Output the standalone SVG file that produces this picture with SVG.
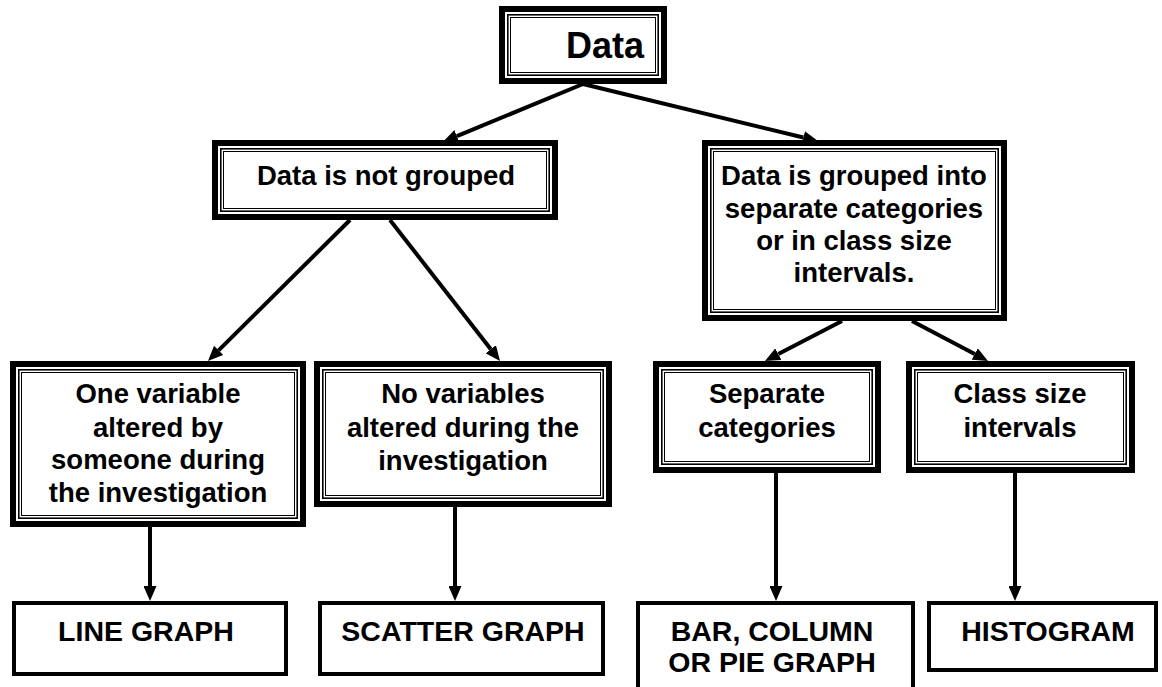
<svg xmlns="http://www.w3.org/2000/svg" width="1162" height="687" viewBox="0 0 1162 687">
  <style>
    .outer { fill: #fff; stroke: #000; stroke-width: 6; }
    .mid { fill: none; stroke: #000; stroke-width: 1.6; }
    .inner { fill: none; stroke: #000; stroke-width: 1; }
    .plain { fill: #fff; stroke: #000; stroke-width: 4; }
    .lbl { font-family: "Liberation Sans", Arial, sans-serif; font-weight: bold; font-size: 27.5px; fill: #000; text-anchor: middle; }
    .title { font-size: 36px; }
    .big { font-size: 28.5px; }
    .conn { stroke: #000; stroke-width: 4; fill: none; marker-end: url(#head); }
  </style>
  <defs>
    <marker id="head" markerUnits="userSpaceOnUse" markerWidth="15" markerHeight="13" refX="0" refY="6.5" orient="auto">
      <path d="M0,0 L15,6.5 L0,13 z" fill="#000"/>
    </marker>
  </defs>

  <rect width="1162" height="687" fill="#fff"/>

  <!-- connectors -->
  <g id="connectors">
    <line class="conn" x1="583" y1="84" x2="456.9" y2="136.1"/>
    <line class="conn" x1="583" y1="84" x2="803.4" y2="137.5"/>
    <line class="conn" x1="350" y1="220" x2="218.6" y2="350.4"/>
    <line class="conn" x1="390" y1="220" x2="490.8" y2="349.2"/>
    <line class="conn" x1="842" y1="321" x2="778.3" y2="354.1"/>
    <line class="conn" x1="912" y1="321" x2="974.7" y2="354"/>
    <line class="conn" x1="150" y1="527" x2="150" y2="586"/>
    <line class="conn" x1="455" y1="507" x2="455" y2="586"/>
    <line class="conn" x1="776" y1="473" x2="776" y2="586"/>
    <line class="conn" x1="1015" y1="473" x2="1015" y2="586"/>
  </g>

  <!-- top node -->
  <g id="data">
    <rect class="outer" x="502" y="9" width="162" height="72"/>
    <rect class="mid" x="507.8" y="14.8" width="150.4" height="60.4"/>
    <rect class="inner" x="510.5" y="17.5" width="145" height="55"/>
    <text class="lbl title" x="605" y="58">Data</text>
  </g>

  <g id="not-grouped">
    <rect class="outer" x="215" y="143" width="340" height="74"/>
    <rect class="mid" x="220.8" y="148.8" width="328.4" height="62.4"/>
    <rect class="inner" x="223.5" y="151.5" width="323" height="57"/>
    <text class="lbl" x="386" y="185">Data is not grouped</text>
  </g>

  <g id="grouped">
    <rect class="outer" x="705" y="143" width="299" height="175"/>
    <rect class="mid" x="710.8" y="148.8" width="287.4" height="163.4"/>
    <rect class="inner" x="713.5" y="151.5" width="282" height="158"/>
    <text class="lbl" x="854" y="185">Data is grouped into</text>
    <text class="lbl" x="854" y="218">separate categories</text>
    <text class="lbl" x="854" y="250">or in class size</text>
    <text class="lbl" x="854" y="282">intervals.</text>
  </g>

  <g id="one-variable">
    <rect class="outer" x="13" y="364" width="290" height="160"/>
    <rect class="mid" x="18.8" y="369.8" width="278.4" height="148.4"/>
    <rect class="inner" x="21.5" y="372.5" width="273" height="143"/>
    <text class="lbl" x="158" y="403">One variable</text>
    <text class="lbl" x="158" y="437">altered by</text>
    <text class="lbl" x="158" y="469">someone during</text>
    <text class="lbl" x="158" y="502">the investigation</text>
  </g>

  <g id="no-variables">
    <rect class="outer" x="317" y="364" width="292" height="140"/>
    <rect class="mid" x="322.8" y="369.8" width="280.4" height="128.4"/>
    <rect class="inner" x="325.5" y="372.5" width="275" height="123"/>
    <text class="lbl" x="463" y="403">No variables</text>
    <text class="lbl" x="463" y="437">altered during the</text>
    <text class="lbl" x="463" y="470">investigation</text>
  </g>

  <g id="separate-categories">
    <rect class="outer" x="656" y="364" width="222" height="106"/>
    <rect class="mid" x="661.8" y="369.8" width="210.4" height="94.4"/>
    <rect class="inner" x="664.5" y="372.5" width="205" height="89"/>
    <text class="lbl" x="767" y="403">Separate</text>
    <text class="lbl" x="767" y="437">categories</text>
  </g>

  <g id="class-size">
    <rect class="outer" x="909" y="364" width="223" height="106"/>
    <rect class="mid" x="914.8" y="369.8" width="211.4" height="94.4"/>
    <rect class="inner" x="917.5" y="372.5" width="206" height="89"/>
    <text class="lbl" x="1020" y="403">Class size</text>
    <text class="lbl" x="1020" y="437">intervals</text>
  </g>

  <!-- graph types -->
  <g id="line-graph">
    <rect class="plain" x="14" y="603" width="272" height="71"/>
    <text class="lbl big" x="146" y="641">LINE GRAPH</text>
  </g>

  <g id="scatter-graph">
    <rect class="plain" x="320" y="603" width="283" height="71"/>
    <text class="lbl big" x="463" y="641">SCATTER GRAPH</text>
  </g>

  <g id="bar-graph">
    <rect class="plain" x="638" y="603" width="275" height="90"/>
    <text class="lbl big" x="772" y="641">BAR, COLUMN</text>
    <text class="lbl big" x="772" y="672">OR PIE GRAPH</text>
  </g>

  <g id="histogram">
    <rect class="plain" x="929" y="603" width="227" height="67"/>
    <text class="lbl big" x="1048" y="641">HISTOGRAM</text>
  </g>
</svg>
